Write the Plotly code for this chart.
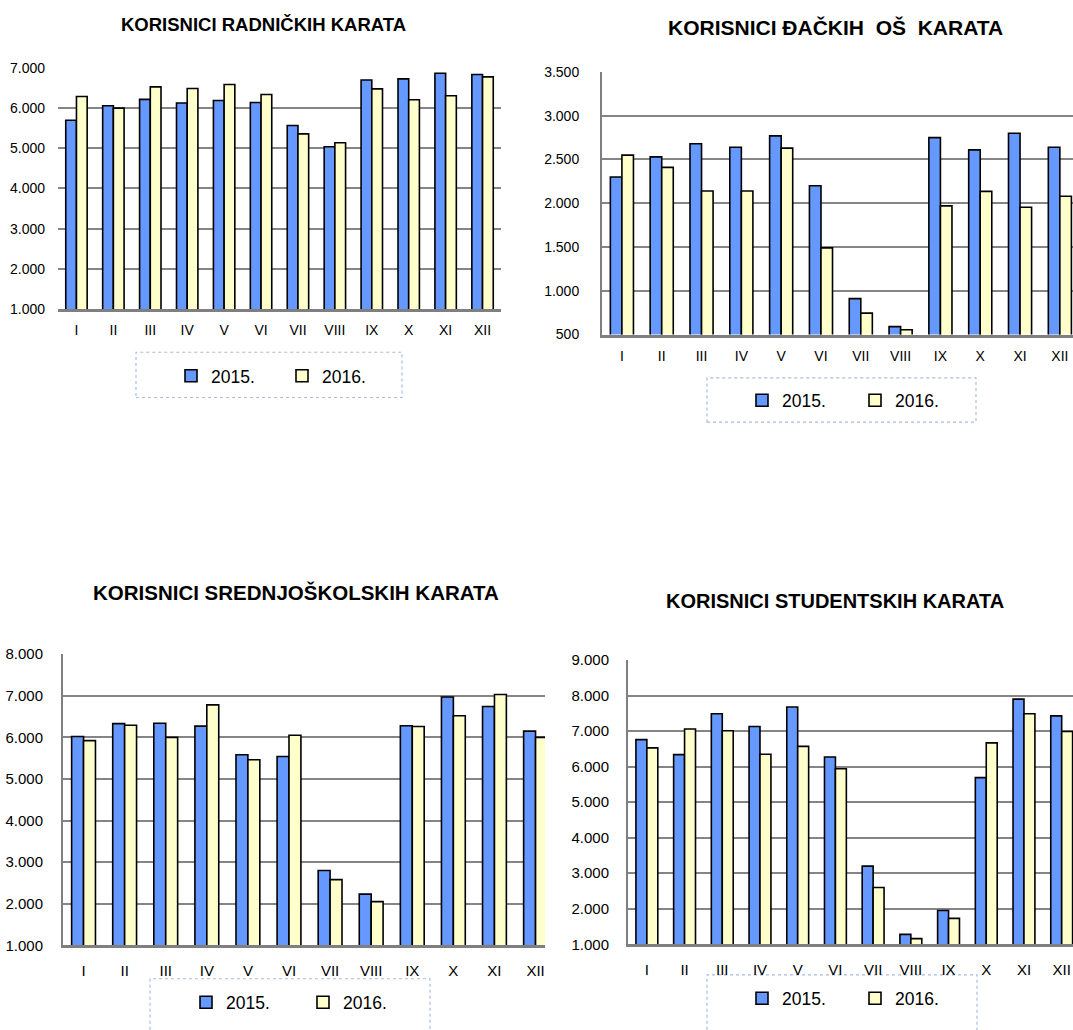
import plotly.graph_objects as go

months = ["I", "II", "III", "IV", "V", "VI", "VII", "VIII", "IX", "X", "XI", "XII"]
series_names = ["2015.", "2016."]

radnicke_2015 = [5700, 6060, 6220, 6130, 6190, 6140, 5570, 5040, 6700, 6730, 6870, 6840]
radnicke_2016 = [6290, 6000, 6530, 6490, 6590, 6340, 5360, 5140, 6480, 6210, 6310, 6780]

djacke_2015 = [2300, 2530, 2680, 2640, 2770, 2200, 910, 590, 2750, 2610, 2800, 2640]
djacke_2016 = [2550, 2410, 2140, 2140, 2630, 1490, 745, 555, 1970, 2135, 1955, 2080]

srednjoskolske_2015 = [6020, 6330, 6340, 6270, 5580, 5540, 2800, 2230, 6280, 6970, 6740, 6150]
srednjoskolske_2016 = [5920, 6290, 6000, 6780, 5460, 6050, 2580, 2050, 6260, 6520, 7030, 6000]

studentske_2015 = [6760, 6340, 7490, 7130, 7680, 6270, 3200, 1280, 1950, 5690, 7900, 7430]
studentske_2016 = [6530, 7060, 7010, 6350, 6570, 5940, 2600, 1160, 1730, 6670, 7490, 6990]

titles = ["KORISNICI RADNIČKIH KARATA",
          "KORISNICI ĐAČKIH \u00a0OŠ \u00a0KARATA",
          "KORISNICI SREDNJOŠKOLSKIH KARATA",
          "KORISNICI STUDENTSKIH KARATA"]

W, H = 1073, 1030
BLUE = "#6699FF"
YELLOW = "#FFFFCC"
GRID = "#858585"
AXIS = "#7F7F7F"
FONT = "Liberation Sans, Arial, sans-serif"

def px_x(v):
    return v / W

def px_y(v):
    return 1 - v / H

panels = [
    dict(l=58, r=501, t=60, b=305, xend=11.5, yr=[1000, 7000], dt=1000, fs=14, line=False, stand_y=12, stand_x=6),
    dict(l=602, r=1073, t=64, b=331, xend=11.33, yr=[500, 3500], dt=500, fs=14, line=True, stand_y=18, stand_x=7),
    dict(l=63, r=545, t=656, b=952, xend=11.23, yr=[1000, 8000], dt=1000, fs=15, line=True, stand_y=15, stand_x=10),
    dict(l=628, r=1073, t=662, b=951, xend=11.30, yr=[1000, 9000], dt=1000, fs=15, line=True, stand_y=14, stand_x=10),
]
data_pairs = [(radnicke_2015, radnicke_2016), (djacke_2015, djacke_2016),
              (srednjoskolske_2015, srednjoskolske_2016), (studentske_2015, studentske_2016)]

fig = go.Figure()
legend_names = ["legend", "legend2", "legend3", "legend4"]

for i, (p, (s15, s16)) in enumerate(zip(panels, data_pairs)):
    ax = "" if i == 0 else str(i + 1)
    for name, vals, col in ((series_names[0], s15, BLUE), (series_names[1], s16, YELLOW)):
        fig.add_trace(go.Bar(
            x=months, y=vals, name=name,
            marker=dict(color=col, line=dict(color="black", width=1.6)),
            xaxis="x" + ax, yaxis="y" + ax, legend=legend_names[i],
        ))
    fig.layout["xaxis" + ax] = dict(
        domain=[px_x(p["l"]), px_x(p["r"])], anchor="y" + ax, type="category",
        range=[-0.5, p["xend"]], showgrid=False, showline=True, linecolor=AXIS, linewidth=2.6,
        ticks="", tickfont=dict(size=p["fs"], color="black", family=FONT),
        ticklabelstandoff=p["stand_x"], fixedrange=True,
    )
    fig.layout["yaxis" + ax] = dict(
        domain=[px_y(p["b"]), px_y(p["t"])], anchor="x" + ax,
        range=p["yr"], dtick=p["dt"], tickformat=",d",
        showgrid=True, gridcolor=GRID, gridwidth=1.9, zeroline=False,
        showline=p["line"], linecolor=AXIS, linewidth=2,
        ticks="", tickfont=dict(size=p["fs"], color="black", family=FONT),
        ticklabelstandoff=p["stand_y"], fixedrange=True,
    )

title_pos = [(263, 16, 18.5), (835, 19, 21), (296, 593, 20.5), (835, 602, 20)]
annotations = []
for t, (cx, cy, fs) in zip(titles, title_pos):
    annotations.append(dict(text="<b>%s</b>" % t, x=px_x(cx), y=px_y(cy), xref="paper", yref="paper",
                            showarrow=False, xanchor="center", yanchor="middle",
                            font=dict(size=fs, color="black", family=FONT)))

boxes = [(136, 349, 402, 395), (707, 375, 976, 420), (150, 986, 430, 1045), (707, 982, 977, 1045)]
shapes = []
for (x0, y0, x1, y1) in boxes:
    shapes.append(dict(type="rect", xref="paper", yref="paper",
                       x0=px_x(x0), x1=px_x(x1), y0=px_y(y1), y1=px_y(y0),
                       line=dict(color="#A7BCE0", width=1.2, dash="dot"), fillcolor="rgba(0,0,0,0)", layer="below"))

legend_pos = [(171, 373, 66), (742, 398, 68), (186, 1010, 72), (742, 1006, 68)]
legend_layout = {}
for ln, (lx, ly, ew) in zip(legend_names, legend_pos):
    legend_layout[ln] = dict(orientation="h", x=px_x(lx), y=px_y(ly), xanchor="left", yanchor="middle",
                             font=dict(size=17.5, color="black", family=FONT), bgcolor="rgba(0,0,0,0)",
                             borderwidth=0, entrywidth=ew, entrywidthmode="pixels",
                             itemclick=False, itemdoubleclick=False)

fig.update_layout(
    width=W, height=H, margin=dict(l=0, r=0, t=0, b=0),
    paper_bgcolor="white", plot_bgcolor="white",
    barmode="group", bargap=0.42, bargroupgap=0,
    separators=",.", font=dict(family=FONT, color="black"),
    annotations=annotations, shapes=shapes, showlegend=True,
    **legend_layout,
)

fig.write_html("out.html", config={"displayModeBar": False},
               post_script="document.body.style.margin='0';document.body.style.overflow='hidden';")
